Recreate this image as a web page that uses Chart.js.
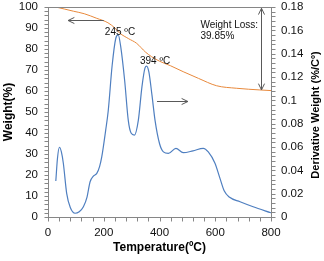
<!DOCTYPE html>
<html>
<head>
<meta charset="utf-8">
<script src="https://cdn.jsdelivr.net/npm/chart.js@4/dist/chart.umd.min.js"></script>
<style>
  body { margin: 0; background: #fff; }
  canvas { display: block; }
</style>
</head>
<body>
<canvas id="tgaChart" width="324" height="261"></canvas>
<script>
// weight loss curve (TGA)
const tgaTemp = [31, 60, 91, 130, 175, 215, 240, 258, 288, 318, 350, 372, 400, 440, 485, 540, 605, 677, 760, 800];
const tgaWeight = [99.9, 99, 98, 96.8, 94.6, 92.5, 90, 87.5, 85, 82.7, 78.5, 76.3, 74.2, 72, 69.2, 66, 62.5, 61.3, 60.5, 60.2];

// derivative weight curve (DTG)
const dtgTemp = [28, 34, 41, 48, 55, 67, 80, 97, 112, 127, 140, 151, 163, 175, 185, 193, 207, 216, 230, 243, 252, 261, 275, 288, 298, 310, 324, 337, 348, 354, 362, 373, 384, 400, 414, 432, 459, 485, 520, 557, 575, 599, 617, 632, 650, 689, 736, 800];
const dtgValues = [0.0308, 0.0504, 0.0598, 0.0558, 0.0461, 0.0203, 0.0081, 0.0032, 0.0045, 0.0088, 0.0171, 0.0302, 0.0351, 0.0374, 0.0432, 0.0517, 0.0745, 0.0909, 0.1296, 0.153, 0.1561, 0.1458, 0.117, 0.0828, 0.072, 0.0702, 0.0828, 0.1116, 0.1278, 0.1294, 0.1242, 0.1044, 0.0828, 0.063, 0.0558, 0.0545, 0.0589, 0.0551, 0.0567, 0.0589, 0.0558, 0.0461, 0.0331, 0.0225, 0.0171, 0.0131, 0.0088, 0.0036];

const FONT = "'Liberation Sans', Arial, sans-serif";
const axisColor = '#868686';
const arrowColor = '#595959';

function toPoints(xs, ys) {
    return xs.map((t, i) => ({ x: t, y: ys[i] }));
}

function seg(ctx, x1, y1, x2, y2) {
    ctx.beginPath();
    ctx.moveTo(x1, y1);
    ctx.lineTo(x2, y2);
    ctx.stroke();
}

function head(ctx, fx, fy, tx, ty) {
    // open arrow head at (tx, ty), pointing away from (fx, fy)
    const a = Math.atan2(ty - fy, tx - fx);
    const len = 7, spread = 0.45;
    ctx.beginPath();
    ctx.moveTo(tx - len * Math.cos(a - spread), ty - len * Math.sin(a - spread));
    ctx.lineTo(tx, ty);
    ctx.lineTo(tx - len * Math.cos(a + spread), ty - len * Math.sin(a + spread));
    ctx.stroke();
}

const decor = {
    id: 'decor',
    afterDraw(chart) {
        const ctx = chart.ctx;
        const a = chart.chartArea;
        const x = chart.scales.x, y = chart.scales.y, y1 = chart.scales.y1;
        const L = Math.round(a.left) + 0.5, R = Math.round(a.right) + 0.5;
        const T = Math.round(a.top) + 0.5, B = Math.round(a.bottom) + 0.5;
        ctx.save();
        ctx.strokeStyle = axisColor;
        ctx.lineWidth = 1;
        seg(ctx, L, T, R, T);
        // tick marks incl. minor ones
        for (let t = 0; t <= 800; t += 40) {
            const px = Math.round(x.getPixelForValue(t)) + 0.5;
            seg(ctx, px, B, px, B + 4);
        }
        for (let v = 0; v <= 100; v += 2) {
            const py = Math.round(y.getPixelForValue(v)) + 0.5;
            seg(ctx, L - 4, py, L, py);
        }
        for (let i = 0; i <= 45; i++) {
            const py = Math.round(y1.getPixelForValue(i * 0.004)) + 0.5;
            seg(ctx, R, py, R + 4, py);
        }

        // arrows
        ctx.strokeStyle = arrowColor;
        let ax1 = x.getPixelForValue(200), ax2 = x.getPixelForValue(72), ay = Math.round(y.getPixelForValue(93.8)) + 0.5;
        seg(ctx, ax1, ay, ax2, ay);
        head(ctx, ax1, ay, ax2, ay);
        ax1 = x.getPixelForValue(391); ax2 = x.getPixelForValue(502); ay = Math.round(y.getPixelForValue(55.2)) + 0.5;
        seg(ctx, ax1, ay, ax2, ay);
        head(ctx, ax1, ay, ax2, ay);
        const vx = Math.round(x.getPixelForValue(765)) + 0.5;
        const vy1 = y.getPixelForValue(99.4), vy2 = y.getPixelForValue(60.5);
        seg(ctx, vx, vy1, vx, vy2);
        head(ctx, vx, vy2, vx, vy1);
        head(ctx, vx, vy1, vx, vy2);

        // annotations
        ctx.fillStyle = '#111';
        ctx.font = '10px ' + FONT;
        ctx.textAlign = 'left';
        ctx.textBaseline = 'middle';
        ctx.fillText('245 ºC', x.getPixelForValue(204), y.getPixelForValue(88));
        ctx.fillText('394 ºC', x.getPixelForValue(330), y.getPixelForValue(74.4));
        ctx.fillText('Weight Loss:', x.getPixelForValue(547), y.getPixelForValue(91.1));
        ctx.fillText('39.85%', x.getPixelForValue(547), y.getPixelForValue(85.9));

        // axis titles
        ctx.fillStyle = '#000';
        ctx.textAlign = 'center';
        ctx.font = 'bold 12px ' + FONT;
        ctx.fillText('Temperature(ºC)', (a.left + a.right) / 2, 248);
        ctx.save();
        ctx.translate(9, (a.top + a.bottom) / 2);
        ctx.rotate(-Math.PI / 2);
        ctx.fillText('Weight(%)', 0, 0);
        ctx.restore();
        ctx.save();
        ctx.font = 'bold 11px ' + FONT;
        ctx.translate(316, (a.top + a.bottom) / 2 + 3);
        ctx.rotate(-Math.PI / 2);
        ctx.fillText('Derivative Weight (%/Cº)', 0, 0);
        ctx.restore();
        ctx.restore();
    }
};

const tickFont = { family: FONT, size: 11.5 };

function fixWidth(w) {
    return s => { s.width = w; s.paddingTop = 0; s.paddingBottom = 0; };
}

window.onload = function () {
    const ctx = document.getElementById('tgaChart').getContext('2d');
    window.tgaChart = new Chart(ctx, {
        type: 'line',
        data: {
            datasets: [{
                label: 'Derivative Weight',
                data: toPoints(dtgTemp, dtgValues),
                yAxisID: 'y1',
                borderColor: '#4f7fc0',
                borderWidth: 1.2,
                pointRadius: 0,
                cubicInterpolationMode: 'monotone',
                fill: false
            }, {
                label: 'Weight',
                data: toPoints(tgaTemp, tgaWeight),
                yAxisID: 'y',
                borderColor: '#e8893c',
                borderWidth: 1,
                pointRadius: 0,
                cubicInterpolationMode: 'monotone',
                fill: false
            }]
        },
        options: {
            responsive: false,
            animation: false,
            layout: { padding: { top: 7, left: 0, right: 0, bottom: 0 } },
            plugins: { legend: { display: false }, tooltip: { enabled: false } },
            scales: {
                x: {
                    type: 'linear',
                    min: 0, max: 800,
                    grid: { display: false, drawTicks: false },
                    border: { display: true, color: axisColor },
                    ticks: { stepSize: 200, font: tickFont, color: '#111', padding: 9, maxRotation: 0 },
                    afterFit: s => { s.height = 44; s.paddingLeft = 0; s.paddingRight = 0; }
                },
                y: {
                    position: 'left',
                    min: 0, max: 100,
                    grid: { display: false, drawTicks: false },
                    border: { display: true, color: axisColor },
                    ticks: { stepSize: 10, font: tickFont, color: '#111', padding: 10 },
                    afterFit: fixWidth(48)
                },
                y1: {
                    position: 'right',
                    min: 0, max: 0.18,
                    grid: { display: false, drawTicks: false },
                    border: { display: true, color: axisColor },
                    ticks: {
                        stepSize: 0.02, font: tickFont, color: '#111', padding: 10,
                        callback: v => String(Number(v.toFixed(2)))
                    },
                    afterFit: fixWidth(53)
                }
            }
        },
        plugins: [decor]
    });
};
</script>
</body>
</html>
